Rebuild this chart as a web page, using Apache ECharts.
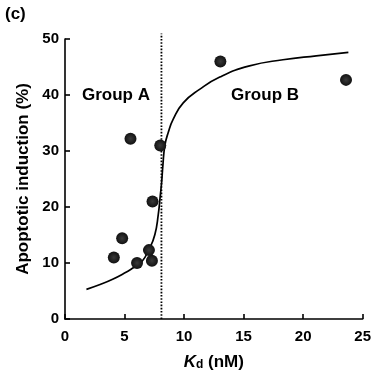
<!DOCTYPE html>
<html>
<head>
<meta charset="utf-8">
<script src="https://cdn.jsdelivr.net/npm/echarts@6/dist/echarts.min.js"></script>
<style>html,body{margin:0;padding:0;background:#fff}#c{width:374px;height:376px}</style>
</head>
<body>
<div id="c"></div>
<script>
// Data
var pointsKd = [4.1, 4.8, 5.5, 6.05, 7.05, 7.3, 7.35, 8.0, 13.05, 23.6];
var pointsApop = [11.0, 14.4, 32.2, 10.0, 12.3, 10.4, 21.0, 31.0, 46.0, 42.7];
var curveKd = [1.8, 3.0, 4.0, 5.0, 5.7, 6.4, 7.1, 7.55, 7.83, 8.0, 8.12, 8.22, 8.39, 8.67, 9.09, 9.93, 11.3, 13.0, 15.5, 18.3, 21.1, 23.8];
var curveApop = [5.3, 6.2, 7.1, 8.2, 9.1, 10.1, 12.6, 15.1, 18.6, 22.0, 24.5, 27.4, 31.0, 33.3, 35.7, 38.6, 41.0, 43.2, 45.2, 46.3, 47.0, 47.6];
var thresholdKd = 8.1;
var thresholdSpan = [0, 51];
var xTicks = [0, 5, 10, 15, 20, 25];
var yTicks = [0, 10, 20, 30, 40, 50];
var groupLabels = ['Group A', 'Group B'];
var groupKd = [4.28, 16.8];
var groupApop = [39.9, 39.9];
var panelLabel = '(c)';

var FONT = 'Liberation Sans, Arial, Helvetica, sans-serif';
var chart = echarts.init(document.getElementById('c'), null, {renderer: 'canvas'});
var option = {
  animation: false,
  grid: {left: 65, right: 11, top: 39, bottom: 54, containLabel: false},
  xAxis: {
    type: 'value', min: xTicks[0], max: xTicks[xTicks.length - 1], interval: 5,
    splitLine: {show: false},
    axisLine: {lineStyle: {color: '#000', width: 1.6}},
    axisTick: {inside: true, length: 5, lineStyle: {color: '#000', width: 1.6}},
    axisLabel: {color: '#000', fontFamily: FONT, fontWeight: 'bold', fontSize: 15, margin: 10},
    name: '{k|K}{d|d}{n| (nM)}',
    nameLocation: 'middle', nameGap: 34,
    nameTextStyle: {
      rich: {
        k: {fontFamily: FONT, fontWeight: 'bold', fontStyle: 'italic', fontSize: 17, color: '#000'},
        d: {fontFamily: FONT, fontWeight: 'bold', fontSize: 12, color: '#000', verticalAlign: 'bottom', padding: [6, 0, 0, 0]},
        n: {fontFamily: FONT, fontWeight: 'bold', fontSize: 17, color: '#000'}
      }
    }
  },
  yAxis: {
    type: 'value', min: yTicks[0], max: yTicks[yTicks.length - 1], interval: 10,
    splitLine: {show: false},
    axisLine: {lineStyle: {color: '#000', width: 1.6}},
    axisTick: {inside: true, length: 5, lineStyle: {color: '#000', width: 1.6}},
    axisLabel: {color: '#000', fontFamily: FONT, fontWeight: 'bold', fontSize: 15, margin: 6},
    name: 'Apoptotic induction (%)',
    nameLocation: 'middle', nameGap: 27,
    nameTextStyle: {color: '#000', fontFamily: FONT, fontWeight: 'bold', fontSize: 17}
  },
  graphic: [
    {type: 'text', left: 5, top: 6, style: {text: panelLabel, fontFamily: FONT, fontWeight: 'bold', fontSize: 17, fill: '#000'}}
  ],
  series: [
    {
      type: 'line', data: curveKd.map(function (x, i) { return [x, curveApop[i]]; }),
      smooth: 0.5, symbol: 'none', clip: false,
      lineStyle: {color: '#000', width: 1.7}, z: 2
    },
    {
      type: 'line', data: [[thresholdKd, thresholdSpan[0]], [thresholdKd, thresholdSpan[1]]],
      symbol: 'none', clip: false,
      lineStyle: {color: '#000', width: 1.8, type: [1.6, 1.6]}, z: 1
    },
    {
      type: 'scatter', data: pointsKd.map(function (x, i) { return [x, pointsApop[i]]; }),
      symbol: 'circle', symbolSize: 12,
      itemStyle: {opacity: 1, color: new echarts.graphic.RadialGradient(0.5, 0.5, 0.5, [{offset: 0, color: '#3a3a3a'}, {offset: 1, color: '#111'}])},
      z: 3
    },
    {
      type: 'scatter', data: groupKd.map(function (x, i) { return [x, groupApop[i]]; }), symbolSize: 0, silent: true,
      itemStyle: {opacity: 1},
      label: {
        show: true, position: 'inside', color: '#000', opacity: 1, textBorderWidth: 0,
        fontFamily: FONT, fontWeight: 'bold', fontSize: 17,
        formatter: function (p) { return groupLabels[p.dataIndex]; }
      }
    }
  ]
};
chart.setOption(option);
</script>
</body>
</html>
